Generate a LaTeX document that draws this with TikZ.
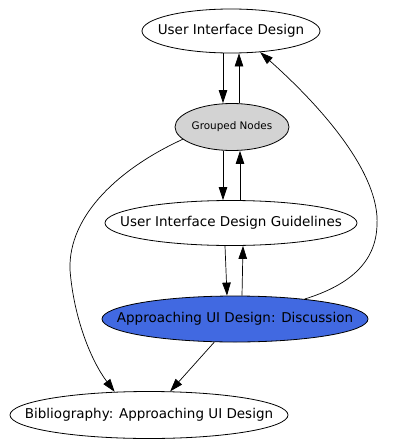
\documentclass[tikz,border=0pt]{standalone}
\usepackage{fontspec}
\setmainfont{DejaVu Sans}
\usetikzlibrary{shapes.geometric, arrows.meta, positioning}
\definecolor{gvgrey}{HTML}{D3D3D3}
\definecolor{gvblue}{HTML}{4169E1}
\tikzstyle{page} = [ellipse, 
draw=black, 
line width=0.8pt, 
inner xsep=-30pt, 
inner ysep=0pt, 
text=black, 
font=\fontsize{13.5}{16}\selectfont]
\tikzstyle{group} = [page, 
fill=gvgrey, 
font=\fontsize{10.4}{12}\selectfont]
\tikzstyle{current} = [page, fill=gvblue]
\tikzstyle{arrow} = [line width=0.7pt,->,>={Triangle[length=13pt,width=8.5pt]}]

\begin{document}
\begin{tikzpicture}[x=1pt, y=1pt, node distance=96pt]
\useasboundingbox (0,0) rectangle (417,-447);

\node (uid) [page, minimum width=178pt, minimum height=44pt] at (231,-31) {User Interface Design};
\node (grp) [group, below of=uid, xshift=1pt, minimum width=114pt, minimum height=47pt] {Grouped Nodes};
\node (gdl) [page, below of=grp, xshift=-1pt, minimum width=252pt, minimum height=45pt] {User Interface Design Guidelines};
\node (dis) [current, below of=gdl, xshift=4pt, minimum width=266pt, minimum height=46pt] {Approaching UI Design: Discussion};
\node (bib) [page, below of=dis, xshift=-86pt, minimum width=278pt, minimum height=47pt] {Bibliography: Approaching UI Design};

\draw [arrow] ([xshift=-8pt]uid.south) -- ([xshift=-9pt]grp.north);
\draw [arrow] ([xshift=7pt]grp.north) -- ([xshift=8pt]uid.south);
\draw [arrow] ([xshift=-9pt]grp.south) -- ([xshift=-8pt]gdl.north);
\draw [arrow] ([xshift=9pt]gdl.north) -- ([xshift=8pt]grp.south);
\draw [arrow] ([xshift=-6pt]gdl.south) -- ([xshift=-8pt]dis.north);
\draw [arrow] ([xshift=7pt]dis.north) -- ([xshift=12pt]gdl.south);
\draw [arrow] (dis.16) .. controls (350,-285) and (376,-262) .. (377,-225)
  .. controls (380,-175) and (325,-110) .. (uid.-36);
\draw [arrow] (grp.194) .. controls (120,-168) and (68,-215) .. (70,-270)
  .. controls (74,-320) and (92,-362) .. (bib.146);
\draw [arrow] (dis) -- (bib);

\end{tikzpicture}
\end{document}
